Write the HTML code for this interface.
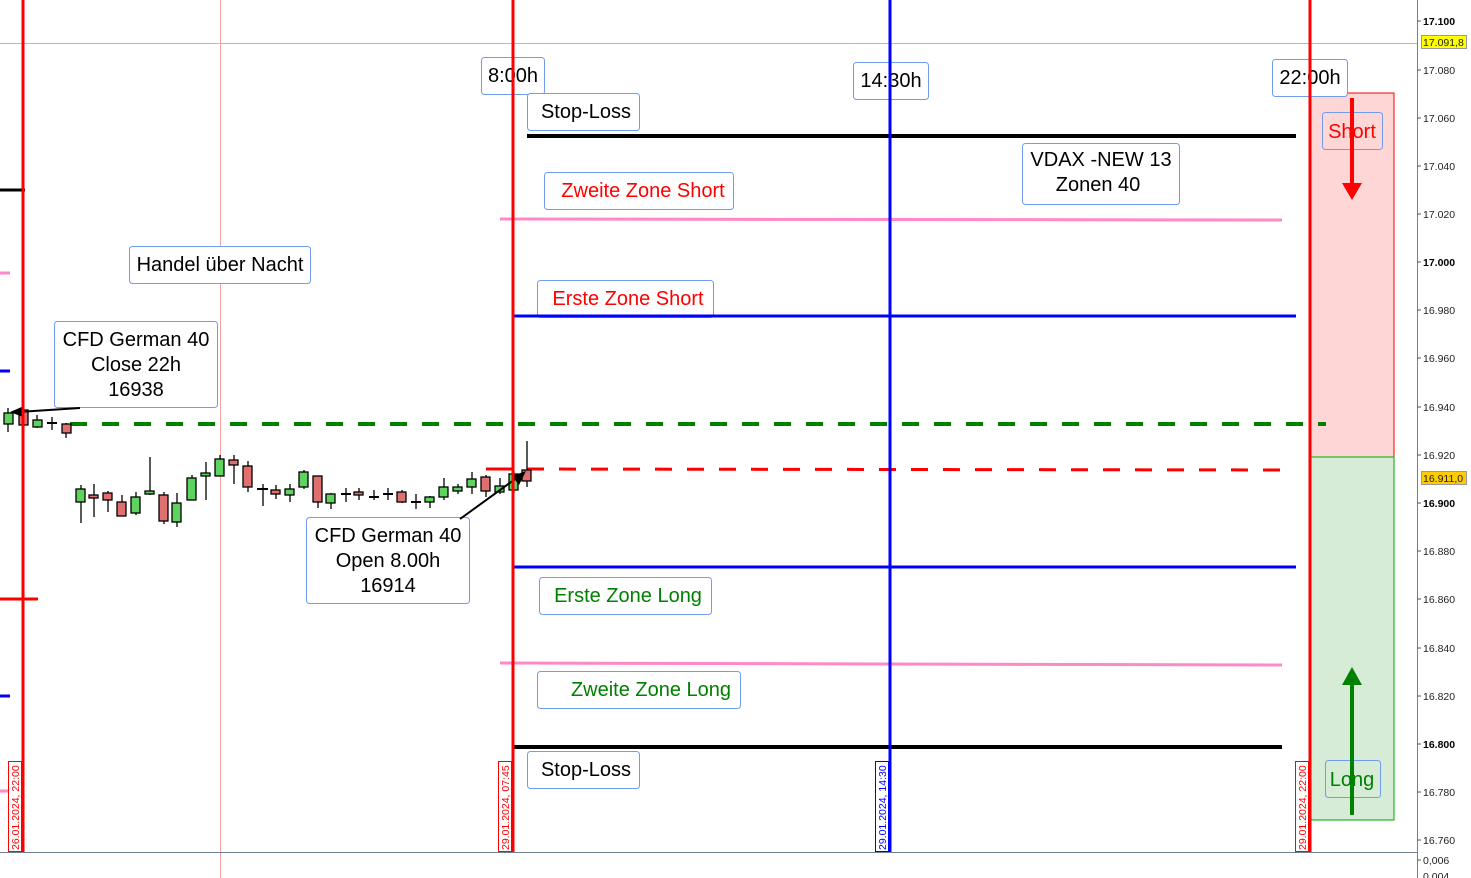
<!DOCTYPE html>
<html><head><meta charset="utf-8"><style>
html,body{margin:0;padding:0;background:#fff;}
svg{display:block;font-family:"Liberation Sans",Arial,sans-serif;}
</style></head><body>
<svg width="1471" height="878" viewBox="0 0 1471 878" xmlns="http://www.w3.org/2000/svg">
<rect width="1471" height="878" fill="#fff"/>
<!-- zones -->
<rect x="1310" y="93" width="84" height="364" fill="#ffd6d6" stroke="#ff0000" stroke-width="1"/>
<rect x="1310" y="457" width="84" height="363" fill="#d6ecd6" stroke="#00aa00" stroke-width="1"/>
<!-- thin lines -->
<line x1="0" y1="43.5" x2="1417" y2="43.5" stroke="#f4a0a0" stroke-width="1"/>
<line x1="220.5" y1="0" x2="220.5" y2="878" stroke="#f4a0a0" stroke-width="1"/>
<!-- labels (boxes) -->
<g fill="#fff" stroke="#6f9cf0" stroke-width="1">
<rect x="481.5" y="57.5" width="63" height="37" rx="3"/>
<rect x="853.5" y="62.5" width="75" height="37" rx="3"/>
<rect x="1272.5" y="59.5" width="75" height="37" rx="3"/>
<rect x="527.5" y="93.5" width="112" height="37" rx="3"/>
<rect x="544.5" y="172.5" width="189" height="37" rx="3"/>
<rect x="1022.5" y="143.5" width="157" height="61" rx="3"/>
<rect x="129.5" y="246.5" width="181" height="37" rx="3"/>
<rect x="537.5" y="280.5" width="176" height="37" rx="3"/>
<rect x="54.5" y="321.5" width="163" height="86" rx="3"/>
<rect x="306.5" y="517.5" width="163" height="86" rx="3"/>
<rect x="539.5" y="577.5" width="172" height="37" rx="3"/>
<rect x="537.5" y="671.5" width="203" height="37" rx="3"/>
<rect x="527.5" y="751.5" width="112" height="37" rx="3"/>
<rect x="1322.5" y="112.5" width="60" height="37" rx="3" fill="#ffd6d6"/>
<rect x="1325.5" y="760.5" width="55" height="37" rx="3" fill="#d6ecd6"/>
</g>
<g font-size="20" fill="#000" text-anchor="middle">
<text x="513" y="82">8:00h</text>
<text x="891" y="87">14:30h</text>
<text x="1310" y="84">22:00h</text>
<text x="586" y="118">Stop-Loss</text>
<text x="643" y="197" fill="#ff0000">Zweite Zone Short</text>
<text x="1101" y="166">VDAX -NEW 13</text>
<text x="1098" y="191">Zonen 40</text>
<text x="220" y="271">Handel über Nacht</text>
<text x="628" y="305" fill="#ff0000">Erste Zone Short</text>
<text x="136" y="346">CFD German 40</text>
<text x="136" y="371">Close 22h</text>
<text x="136" y="396">16938</text>
<text x="388" y="542">CFD German 40</text>
<text x="388" y="567">Open 8.00h</text>
<text x="388" y="592">16914</text>
<text x="628" y="602" fill="#008000">Erste Zone Long</text>
<text x="651" y="696" fill="#008000">Zweite Zone Long</text>
<text x="586" y="776">Stop-Loss</text>
<text x="1352" y="138" fill="#ff0000">Short</text>
<text x="1352" y="786" fill="#008000">Long</text>
</g>
<!-- horizontal levels -->
<line x1="527" y1="136" x2="1296" y2="136" stroke="#000" stroke-width="4"/>
<line x1="500" y1="219" x2="1282" y2="220" stroke="#ff88c8" stroke-width="3"/>
<line x1="513" y1="316" x2="1296" y2="316" stroke="#0000ff" stroke-width="3"/>
<line x1="70" y1="424" x2="1326" y2="424" stroke="#008000" stroke-width="4" stroke-dasharray="17,15"/>
<line x1="527" y1="469" x2="1282" y2="470" stroke="#ff0000" stroke-width="3" stroke-dasharray="17,15"/>
<line x1="486" y1="469" x2="513" y2="469" stroke="#ff0000" stroke-width="3"/>
<line x1="513" y1="567" x2="1296" y2="567" stroke="#0000ff" stroke-width="3"/>
<line x1="500" y1="663" x2="1282" y2="665" stroke="#ff88c8" stroke-width="3"/>
<line x1="513" y1="747" x2="1282" y2="747" stroke="#000" stroke-width="4"/>
<!-- left stubs -->
<line x1="0" y1="190" x2="25" y2="190" stroke="#000" stroke-width="3"/>
<line x1="0" y1="273" x2="10" y2="273" stroke="#ff88c8" stroke-width="3"/>
<line x1="0" y1="371" x2="10" y2="371" stroke="#0000ff" stroke-width="3"/>
<line x1="0" y1="599" x2="38" y2="599" stroke="#ff0000" stroke-width="3"/>
<line x1="0" y1="696" x2="10" y2="696" stroke="#0000ff" stroke-width="3"/>
<line x1="0" y1="791" x2="10" y2="791" stroke="#ff88c8" stroke-width="3"/>
<!-- candles -->
<g stroke="#000" stroke-width="1.3" id="c">
<line x1="8" y1="408" x2="8" y2="432"/><rect x="4" y="413" width="9" height="11" fill="#5fd35f"/>
<line x1="23" y1="405" x2="23" y2="428"/><rect x="19" y="410" width="9" height="15" fill="#e07070"/>
<line x1="37" y1="415" x2="37" y2="428"/><rect x="33" y="420" width="9" height="7" fill="#5fd35f"/>
<line x1="52" y1="417" x2="52" y2="430"/><line x1="47" y1="423" x2="57" y2="423" stroke-width="2"/>
<line x1="66" y1="423" x2="66" y2="438"/><rect x="62" y="424" width="9" height="9" fill="#e07070"/>
</g>
<g stroke="#000" stroke-width="1.3">
<line x1="81" y1="485" x2="81" y2="523"/><rect x="76" y="489" width="9" height="13" fill="#5fd35f"/>
<line x1="94" y1="484" x2="94" y2="517"/><rect x="89" y="495" width="9" height="3" fill="#e07070"/>
<line x1="108" y1="491" x2="108" y2="512"/><rect x="103" y="493" width="9" height="7" fill="#e07070"/>
<line x1="122" y1="495" x2="122" y2="512"/><rect x="117" y="502" width="9" height="14" fill="#e07070"/>
<line x1="136" y1="492" x2="136" y2="515"/><rect x="131" y="497" width="9" height="16" fill="#5fd35f"/>
<line x1="150" y1="457" x2="150" y2="495"/><rect x="145" y="491" width="9" height="3" fill="#5fd35f"/>
<line x1="164" y1="492" x2="164" y2="524"/><rect x="159" y="495" width="9" height="26" fill="#e07070"/>
<line x1="177" y1="493" x2="177" y2="527"/><rect x="172" y="503" width="9" height="19" fill="#5fd35f"/>
<line x1="192" y1="475" x2="192" y2="500"/><rect x="187" y="478" width="9" height="22" fill="#5fd35f"/>
<line x1="206" y1="462" x2="206" y2="500"/><rect x="201" y="473" width="9" height="3" fill="#5fd35f"/>
<line x1="220" y1="455" x2="220" y2="476"/><rect x="215" y="459" width="9" height="17" fill="#5fd35f"/>
<line x1="234" y1="455" x2="234" y2="484"/><rect x="229" y="460" width="9" height="5" fill="#e07070"/>
<line x1="248" y1="461" x2="248" y2="492"/><rect x="243" y="466" width="9" height="21" fill="#e07070"/>
<line x1="263" y1="484" x2="263" y2="506"/><line x1="257" y1="489" x2="268" y2="489" stroke-width="2"/>
<line x1="276" y1="485" x2="276" y2="499"/><rect x="271" y="490" width="9" height="4" fill="#e07070"/>
<line x1="290" y1="484" x2="290" y2="502"/><rect x="285" y="489" width="9" height="6" fill="#5fd35f"/>
<line x1="304" y1="470" x2="304" y2="489"/><rect x="299" y="472" width="9" height="15" fill="#5fd35f"/>
<line x1="318" y1="476" x2="318" y2="508"/><rect x="313" y="476" width="9" height="26" fill="#e07070"/>
<line x1="331" y1="493" x2="331" y2="509"/><rect x="326" y="494" width="9" height="9" fill="#5fd35f"/>
<line x1="346" y1="488" x2="346" y2="502"/><line x1="341" y1="494" x2="351" y2="494" stroke-width="2"/>
<line x1="359" y1="488" x2="359" y2="500"/><rect x="354" y="492" width="9" height="3" fill="#e07070"/>
<line x1="374" y1="490" x2="374" y2="500"/><line x1="369" y1="497" x2="379" y2="497" stroke-width="2"/>
<line x1="388" y1="488" x2="388" y2="500"/><line x1="383" y1="494" x2="393" y2="494" stroke-width="2"/>
<line x1="402" y1="490" x2="402" y2="503"/><rect x="397" y="492" width="9" height="10" fill="#e07070"/>
<line x1="416" y1="494" x2="416" y2="509"/><line x1="411" y1="502" x2="421" y2="502" stroke-width="2"/>
<line x1="430" y1="496" x2="430" y2="508"/><rect x="425" y="497" width="9" height="5" fill="#5fd35f"/>
<line x1="444" y1="478" x2="444" y2="500"/><rect x="439" y="487" width="9" height="10" fill="#5fd35f"/>
<line x1="458" y1="484" x2="458" y2="494"/><rect x="453" y="487" width="9" height="4" fill="#5fd35f"/>
<line x1="472" y1="472" x2="472" y2="494"/><rect x="467" y="479" width="9" height="8" fill="#5fd35f"/>
<line x1="486" y1="475" x2="486" y2="497"/><rect x="481" y="477" width="9" height="14" fill="#e07070"/>
<line x1="500" y1="478" x2="500" y2="494"/><rect x="495" y="486" width="9" height="6" fill="#5fd35f"/>
<line x1="514" y1="471" x2="514" y2="493"/><rect x="509" y="474" width="9" height="16" fill="#5fd35f"/>
<line x1="527" y1="441" x2="527" y2="487"/><rect x="522" y="470" width="9" height="11" fill="#e07070"/>
</g>
<!-- arrows -->
<line x1="80" y1="408" x2="18" y2="412" stroke="#000" stroke-width="2"/>
<polygon points="10,412 24,406 23,417" fill="#000"/>
<line x1="460" y1="519" x2="518" y2="477" stroke="#000" stroke-width="2"/>
<polygon points="526,471 512,476 519,485" fill="#000"/>
<line x1="1352" y1="98" x2="1352" y2="185" stroke="#ff0000" stroke-width="4"/>
<polygon points="1342,183 1362,183 1352,200" fill="#ff0000"/>
<line x1="1352" y1="683" x2="1352" y2="815" stroke="#008000" stroke-width="4"/>
<polygon points="1342,685 1362,685 1352,667" fill="#008000"/>
<!-- vertical lines -->
<line x1="23" y1="0" x2="23" y2="852" stroke="#ff0000" stroke-width="3"/>
<line x1="513" y1="0" x2="513" y2="852" stroke="#ff0000" stroke-width="3"/>
<line x1="890" y1="0" x2="890" y2="852" stroke="#0000ff" stroke-width="3"/>
<line x1="1310" y1="0" x2="1310" y2="852" stroke="#ff0000" stroke-width="3"/>
<!-- date tags -->
<g font-size="10.5" fill="#ff0000">
<rect x="8.5" y="761.5" width="13" height="90" fill="#fff" stroke="#ff0000"/>
<text transform="translate(19,850) rotate(-90)">26.01.2024, 22:00</text>
<rect x="498.5" y="761.5" width="13" height="90" fill="#fff" stroke="#ff0000"/>
<text transform="translate(509,850) rotate(-90)">29.01.2024, 07:45</text>
<rect x="875.5" y="761.5" width="13" height="90" fill="#fff" stroke="#0000ff"/>
<text transform="translate(886,850) rotate(-90)" fill="#0000ff">29.01.2024, 14:30</text>
<rect x="1295.5" y="761.5" width="13" height="90" fill="#fff" stroke="#ff0000"/>
<text transform="translate(1306,850) rotate(-90)">29.01.2024, 22:00</text>
</g>
<!-- axis -->
<line x1="0" y1="852.5" x2="1417" y2="852.5" stroke="#708090" stroke-width="1"/>
<line x1="1417.5" y1="0" x2="1417.5" y2="878" stroke="#708090" stroke-width="1"/>
<g font-size="10.5" fill="#222">
<g stroke="#555"><line x1="1417" y1="21" x2="1421" y2="21"/><line x1="1417" y1="70" x2="1421" y2="70"/><line x1="1417" y1="118" x2="1421" y2="118"/><line x1="1417" y1="166" x2="1421" y2="166"/><line x1="1417" y1="214" x2="1421" y2="214"/><line x1="1417" y1="262" x2="1421" y2="262"/><line x1="1417" y1="310" x2="1421" y2="310"/><line x1="1417" y1="358" x2="1421" y2="358"/><line x1="1417" y1="407" x2="1421" y2="407"/><line x1="1417" y1="455" x2="1421" y2="455"/><line x1="1417" y1="503" x2="1421" y2="503"/><line x1="1417" y1="551" x2="1421" y2="551"/><line x1="1417" y1="599" x2="1421" y2="599"/><line x1="1417" y1="648" x2="1421" y2="648"/><line x1="1417" y1="696" x2="1421" y2="696"/><line x1="1417" y1="744" x2="1421" y2="744"/><line x1="1417" y1="792" x2="1421" y2="792"/><line x1="1417" y1="840" x2="1421" y2="840"/><line x1="1417" y1="860" x2="1421" y2="860"/></g>
<text x="1423" y="25" font-weight="bold" fill="#000">17.100</text>
<text x="1423" y="74">17.080</text>
<text x="1423" y="122">17.060</text>
<text x="1423" y="170">17.040</text>
<text x="1423" y="218">17.020</text>
<text x="1423" y="266" font-weight="bold" fill="#000">17.000</text>
<text x="1423" y="314">16.980</text>
<text x="1423" y="362">16.960</text>
<text x="1423" y="411">16.940</text>
<text x="1423" y="459">16.920</text>
<text x="1423" y="507" font-weight="bold" fill="#000">16.900</text>
<text x="1423" y="555">16.880</text>
<text x="1423" y="603">16.860</text>
<text x="1423" y="652">16.840</text>
<text x="1423" y="700">16.820</text>
<text x="1423" y="748" font-weight="bold" fill="#000">16.800</text>
<text x="1423" y="796">16.780</text>
<text x="1423" y="844">16.760</text>
<text x="1423" y="864">0,006</text>
<text x="1423" y="880">0,004</text>
<rect x="1421.5" y="35.5" width="45" height="13" fill="#ffff00" stroke="#999"/>
<text x="1423" y="46">17.091,8</text>
<rect x="1421.5" y="471.5" width="45" height="13" fill="#ffcc00" stroke="#999"/>
<text x="1423" y="482">16.911,0</text>
</g>
</svg>
</body></html>
